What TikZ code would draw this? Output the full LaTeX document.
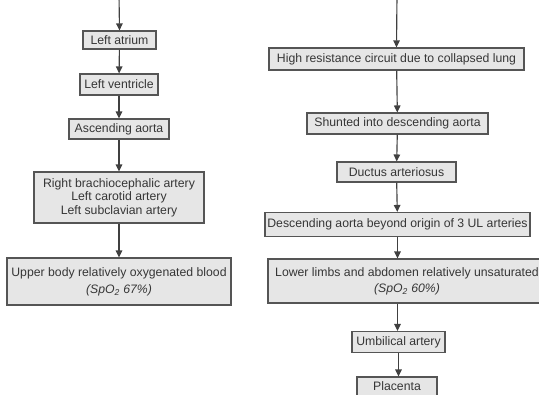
\documentclass[tikz,border=0pt]{standalone}
\usepackage{fontspec}
\setmainfont{Liberation Sans}
\usetikzlibrary{arrows.meta}
\definecolor{boxfill}{HTML}{E6E6E6}
\definecolor{boxline}{HTML}{555555}
\definecolor{txt}{HTML}{363636}
\definecolor{arr}{HTML}{404040}
\tikzset{
  flowbox/.style={draw=boxline, fill=boxfill, line width=1.1pt, inner sep=0pt,
    text=txt, align=center, font=\fontsize{12.3}{13.4}\selectfont},
  flowtext/.style={inner sep=0pt, text=txt, align=center, font=\fontsize{12.3}{13.4}\selectfont},
  flowarrow/.style={draw=arr, line width=1.15pt, -{Triangle[width=6.5bp,length=7bp]}}
}
\begin{document}
\begin{tikzpicture}[x=1bp,y=-1bp]
\useasboundingbox (0,0) rectangle (539,394);
\clip (0,0) rectangle (539,394);
% left column
\coordinate (ltop) at (119,-5);
\node[flowbox, minimum width=73bp, minimum height=18bp] (la) at (119.5,40) {Left atrium};
\node[flowbox, minimum width=78bp, minimum height=21bp] (lv) at (119,84.5) {Left ventricle};
\node[flowbox, minimum width=100bp, minimum height=20bp] (aa) at (119,129) {Ascending aorta};
\node[flowbox, minimum width=170bp, minimum height=51bp] (rb) at (119,197.5) {Right brachiocephalic artery\\Left carotid artery\\Left subclavian artery};
\node[flowbox, minimum width=224bp, minimum height=47bp] (ub) at (119,281.5) {Upper body relatively oxygenated blood\\[4pt]\textit{(SpO\textsubscript{2} 67\%)}};
% right column
\coordinate (rtop) at (397,-5);
\node[flowbox, minimum width=255bp, minimum height=22bp] (hr) at (396.5,59) {High resistance circuit due to collapsed lung};
\node[flowbox, minimum width=181bp, minimum height=21bp] (sh) at (397.5,123.5) {Shunted into descending aorta};
\node[flowbox, minimum width=119bp, minimum height=20bp] (du) at (396.5,172) {Ductus arteriosus};
\node[flowbox, minimum width=265bp, minimum height=24bp] (de) at (397.5,224.5) {Descending aorta beyond origin of 3 UL arteries};
\node[flowbox, minimum width=278bp, minimum height=44bp] (ll) at (407,281) {Lower limbs and abdomen relatively unsaturated\\[3pt]\textit{(SpO\textsubscript{2} 60\%)}};
\node[flowbox, minimum width=93bp, minimum height=21bp] (ua) at (398.5,342) {Umbilical artery};
\node[flowbox, minimum width=80bp, minimum height=30bp] (pl) at (397,392) {};
\node[flowtext] (plt) at (397,386) {Placenta};
% arrows
\draw[flowarrow] (ltop) -- (la.north);
\draw[flowarrow] (la) -- (lv);
\draw[flowarrow] (lv) -- (aa);
\draw[flowarrow] (aa) -- (rb);
\draw[flowarrow] (rb) -- (ub);
\draw[flowarrow] (rtop) -- (hr.north);
\draw[flowarrow] (hr) -- (sh);
\draw[flowarrow] (sh) -- (du);
\draw[flowarrow] (du) -- (de);
\draw[flowarrow] (de.south) -- (de.south |- ll.north);
\draw[flowarrow] (de.south |- ll.south) -- (de.south |- ua.north);
\draw[flowarrow] (ua.south) -- (ua.south |- pl.north);
\end{tikzpicture}
\end{document}
